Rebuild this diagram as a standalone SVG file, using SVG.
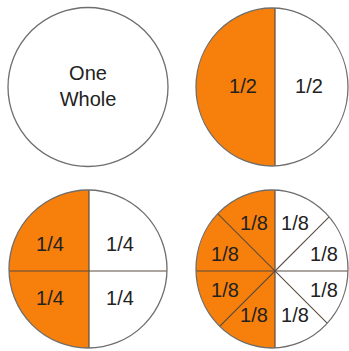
<svg xmlns="http://www.w3.org/2000/svg" width="349" height="351" viewBox="0 0 349 351">
<style>
.bg{fill:#ffffff}
.fill{fill:#f77f0c}
.edge{fill:none;stroke:#6e6e6e;stroke-width:1.3}
.div{stroke:#5a4a3e;stroke-width:1.2;fill:none}
text{font-family:"Liberation Sans",Arial,sans-serif;font-size:20px;fill:#222;text-anchor:middle}
</style>
<defs>
<clipPath id="c2"><ellipse cx="272" cy="87" rx="76" ry="79"/></clipPath>
<clipPath id="c3"><ellipse cx="88" cy="269" rx="79" ry="79"/></clipPath>
<clipPath id="c4"><ellipse cx="272" cy="269" rx="76" ry="79"/></clipPath>
</defs>
<rect width="349" height="351" fill="#ffffff"/>
<g id="whole">
<ellipse class="bg" cx="88" cy="87" rx="80" ry="79.5"/>
<ellipse class="edge" cx="88" cy="87" rx="80" ry="79.5"/>
<text x="88" y="80">One</text>
<text x="88" y="106">Whole</text>
</g>
<g id="halves">
<ellipse class="bg" cx="272" cy="87" rx="76" ry="79"/>
<rect class="fill" x="190" y="0" width="85" height="180" clip-path="url(#c2)"/>
<line class="div" x1="275" y1="7" x2="275" y2="166" clip-path="url(#c2)"/>
<ellipse class="edge" cx="272" cy="87" rx="76" ry="79"/>
<text x="243" y="93">1/2</text>
<text x="309" y="93">1/2</text>
</g>
<g id="quarters">
<ellipse class="bg" cx="88" cy="269" rx="79" ry="79"/>
<rect class="fill" x="0" y="185" width="89" height="170" clip-path="url(#c3)"/>
<g clip-path="url(#c3)">
<line class="div" x1="89" y1="185" x2="89" y2="351"/>
<line class="div" x1="0" y1="271" x2="175" y2="271"/>
</g>
<ellipse class="edge" cx="88" cy="269" rx="79" ry="79"/>
<text x="50" y="251">1/4</text>
<text x="120" y="251">1/4</text>
<text x="50" y="305">1/4</text>
<text x="120" y="305">1/4</text>
</g>
<g id="eighths">
<ellipse class="bg" cx="272" cy="269" rx="76" ry="79"/>
<rect class="fill" x="190" y="185" width="85" height="170" clip-path="url(#c4)"/>
<g clip-path="url(#c4)">
<line class="div" x1="275" y1="185" x2="275" y2="351"/>
<line class="div" x1="190" y1="271" x2="349" y2="271"/>
<line class="div" x1="195" y1="191" x2="355" y2="351"/>
<line class="div" x1="195" y1="351" x2="355" y2="191"/>
</g>
<ellipse class="edge" cx="272" cy="269" rx="76" ry="79"/>
<text x="254" y="230">1/8</text>
<text x="295" y="230">1/8</text>
<text x="225" y="261">1/8</text>
<text x="324" y="261">1/8</text>
<text x="225" y="297">1/8</text>
<text x="324" y="297">1/8</text>
<text x="254" y="322">1/8</text>
<text x="295" y="322">1/8</text>
</g>
</svg>
